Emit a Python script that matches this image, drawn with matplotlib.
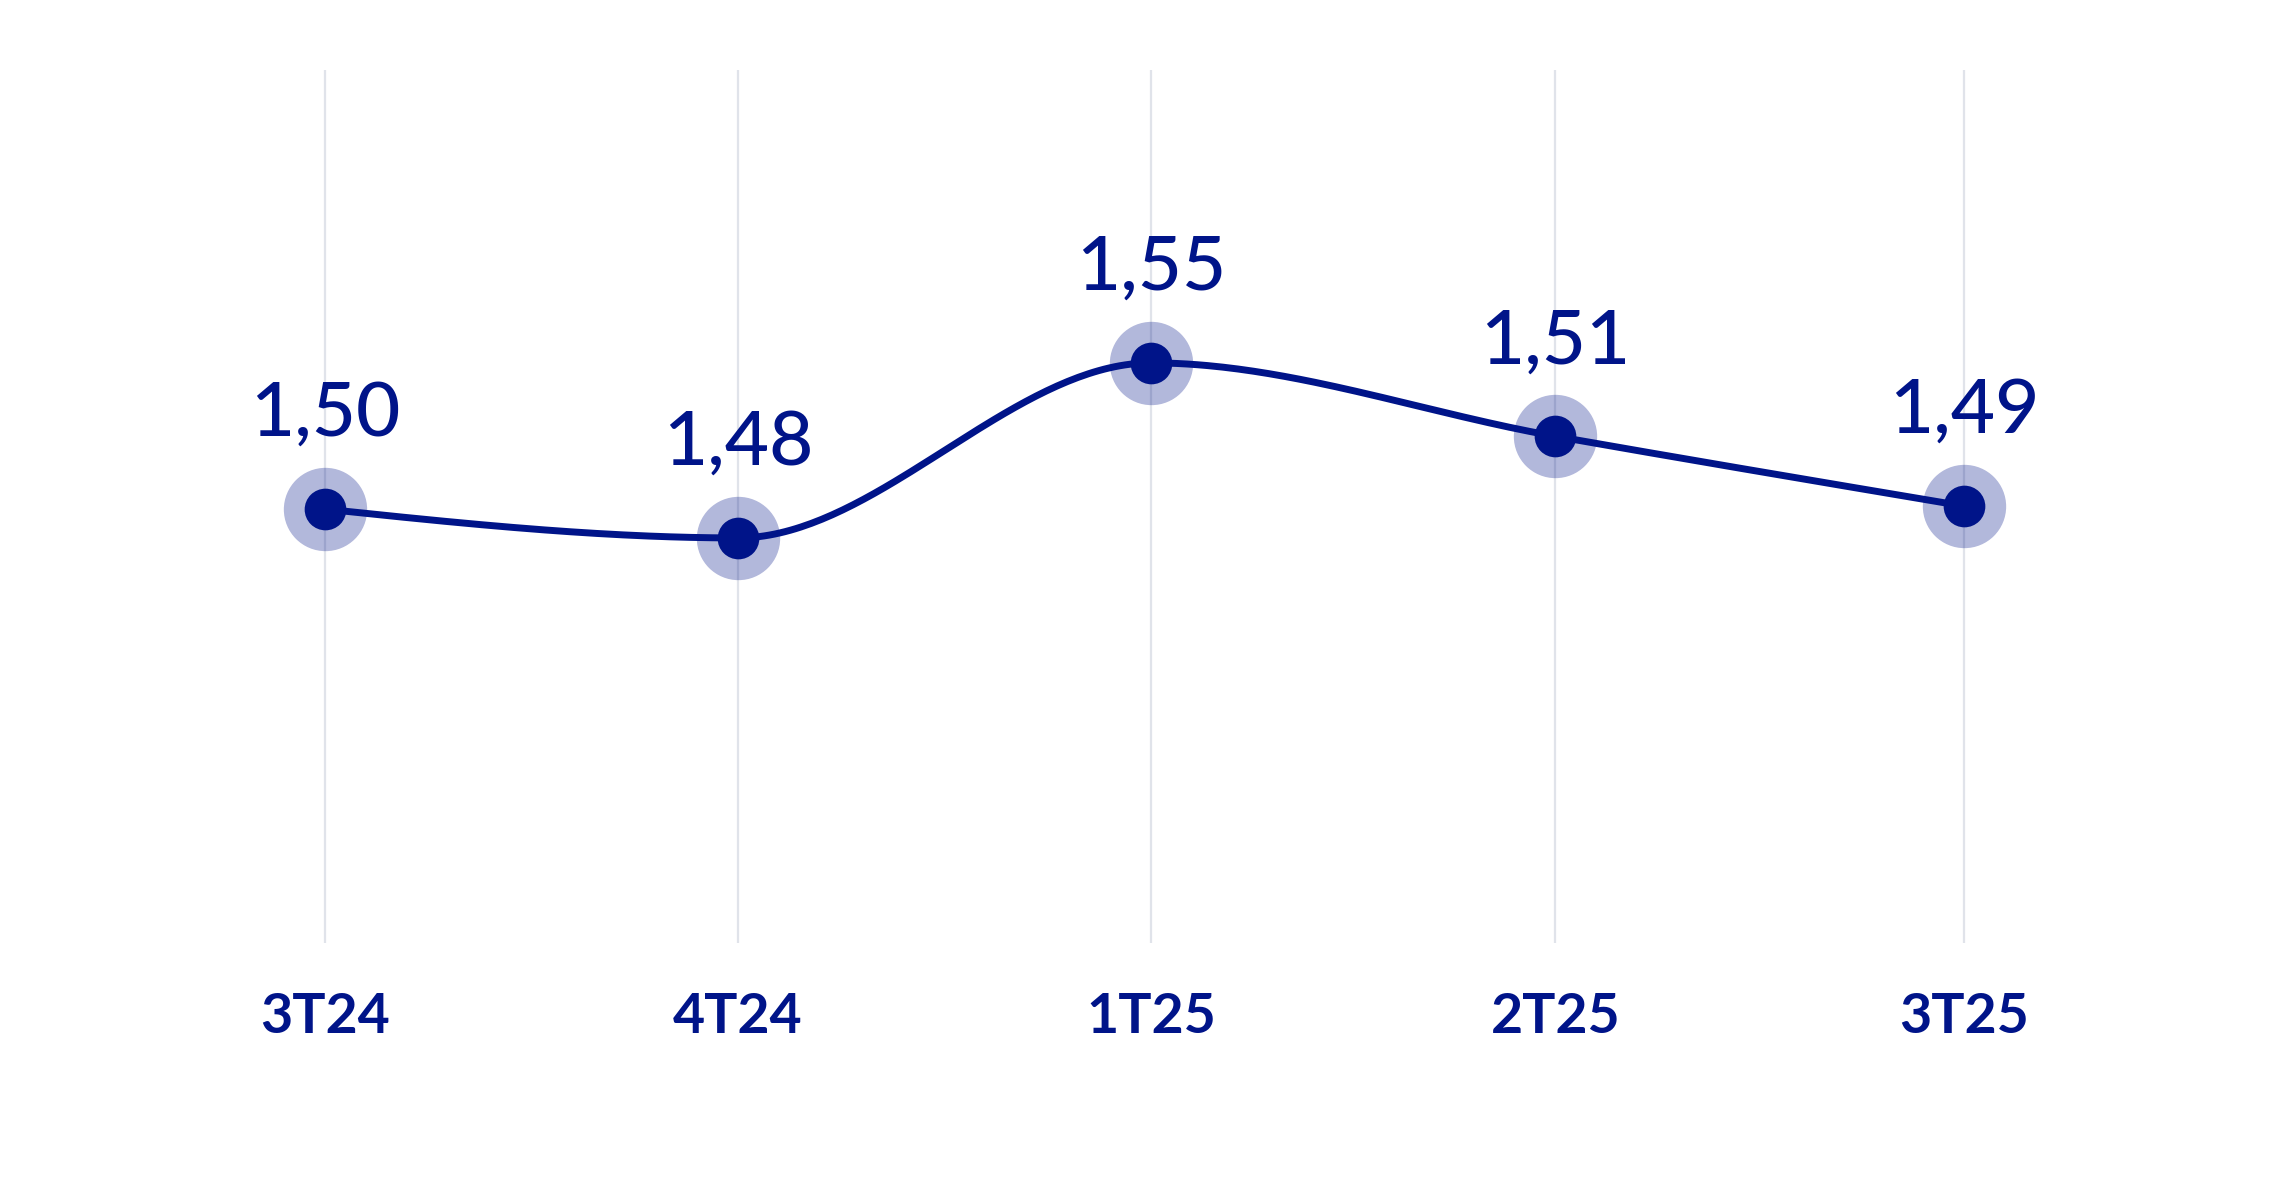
import numpy as np
import pandas as pd
import matplotlib.pyplot as plt
import matplotlib.dates as mdates

trimestres = ["3T24", "4T24", "1T25", "2T25", "3T25"]
datas = ["2024-07-01", "2024-10-01", "2025-01-01", "2025-04-01", "2025-07-01"]
rotulos = ["1,50", "1,48", "1,55", "1,51", "1,49"]
# vertical position of each point
nivel = [1.4994, 1.4928, 1.5329, 1.5161, 1.5001]

azul = "#001489"


def monotone(xs, ys, n=80):
    # monotone cubic through the points (same rule as d3.curveMonotoneX)
    xs = np.asarray(xs, dtype=float)
    ys = np.asarray(ys, dtype=float)
    h = np.diff(xs)
    s = np.diff(ys) / h
    m = np.zeros(len(xs))
    for i in range(1, len(xs) - 1):
        p = (s[i - 1] * h[i] + s[i] * h[i - 1]) / (h[i - 1] + h[i])
        m[i] = (np.sign(s[i - 1]) + np.sign(s[i])) * min(abs(s[i - 1]), abs(s[i]), 0.5 * abs(p))
    m[0] = (3 * s[0] - m[1]) / 2
    m[-1] = (3 * s[-1] - m[-2]) / 2
    cx, cy = [], []
    for i in range(len(xs) - 1):
        t = np.linspace(0, 1, n)
        h00 = 2 * t ** 3 - 3 * t ** 2 + 1
        h10 = t ** 3 - 2 * t ** 2 + t
        h01 = -2 * t ** 3 + 3 * t ** 2
        h11 = t ** 3 - t ** 2
        cx.extend(xs[i] + t * h[i])
        cy.extend(h00 * ys[i] + h10 * h[i] * m[i] + h01 * ys[i + 1] + h11 * h[i] * m[i + 1])
    return cx, cy


W, H = 2293, 1189
fig = plt.figure(figsize=(W / 100, H / 100), dpi=100)
ax = fig.add_axes([0, (H - 943) / H, 1, 873 / H])

x = mdates.date2num(pd.to_datetime(datas))
px_dia = 4.49
ax.set_xlim(x[0] - 325 / px_dia, x[0] + (W - 325) / px_dia)
ax.set_ylim(1.40, 1.60)

for xi in x:
    ax.axvline(xi, color="#e0e3ea", lw=1.6, zorder=0)

cx, cy = monotone(x, nivel)
ax.plot(cx, cy, color=azul, lw=5, solid_capstyle="round", zorder=2, clip_on=False)
ax.plot(x, nivel, "o", ms=60, color=azul, alpha=0.3, mew=0, zorder=1, clip_on=False)
ax.plot(x, nivel, "o", ms=30, color=azul, mew=0, zorder=3, clip_on=False)

for xi, yi, r in zip(x, nivel, rotulos):
    ax.annotate(r, (xi, yi), xytext=(0, 73), textcoords="offset pixels",
                ha="center", va="baseline", color=azul, fontsize=55,
                family="Lato", fontweight="medium", annotation_clip=False)

# category labels below the plot area, baseline at pixel row 1033
y_rot = -(1033 - 943) / 873
for xi, t in zip(x, trimestres):
    ax.text(xi, y_rot, t, transform=ax.get_xaxis_transform(), ha="center",
            va="baseline", fontsize=40, fontweight="bold", family="Lato",
            color=azul)

for s in ax.spines.values():
    s.set_visible(False)
ax.set_xticks([])
ax.set_yticks([])

fig.savefig("out.png", dpi=100, facecolor="white")
